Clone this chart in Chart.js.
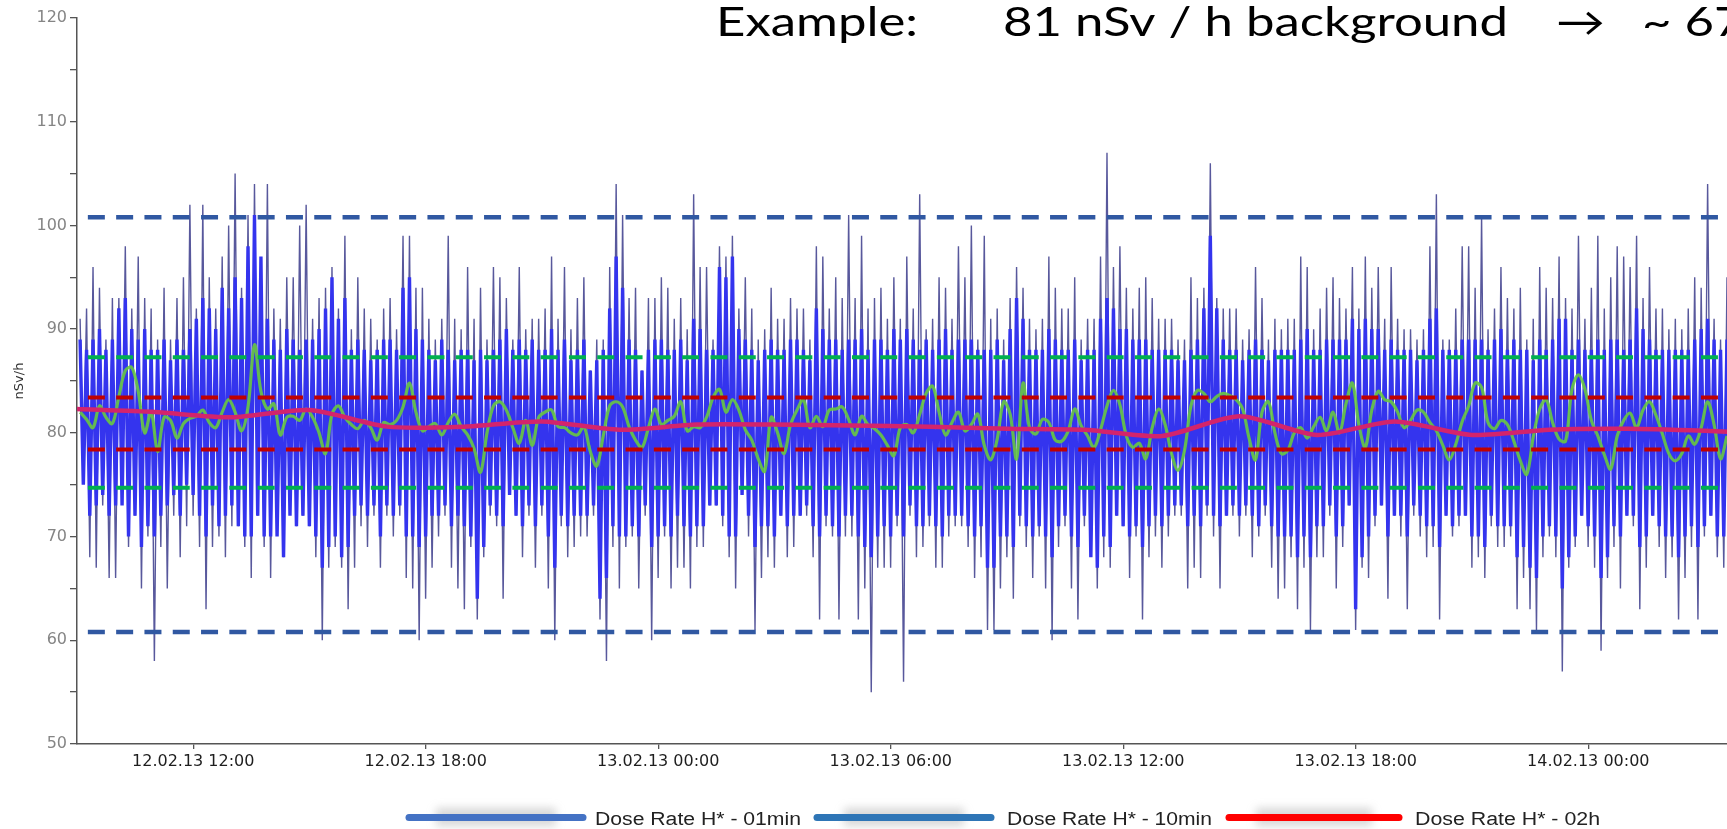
<!DOCTYPE html>
<html>
<head>
<meta charset="utf-8">
<title>Dose Rate H*</title>
<script src="https://cdn.jsdelivr.net/npm/chart.js@4.4.1/dist/chart.umd.min.js"></script>
<style>
  html, body { margin: 0; padding: 0; background: #fff; overflow: hidden; }
  #doseChart { display: block; }
</style>
</head>
<body>
<canvas id="doseChart" width="1727" height="829"></canvas>
<script>
// time axis: hours counted from 12.02.13 00:00
const axisStart = 9;
const axisEnd = 51.58;
const start01 = 9.08;          // first sample of the 1-min trace
const start10 = 9.08;          // first sample of the 10-min trace
const start02h = 9;            // first sample of the 2h trace

// 1-min dose rate, extremes per 5-min slot (peak, dip, peak, dip ...), one row per hour
const rate01minPeaks = [
  91,76, 92,68, 96,67, 94,73, 89,66, 93,66,
  93,74, 98,69, 92,72, 97,65, 93,70, 92,58,
  89,69, 94,65, 89,72, 93,68, 95,71, 102,72,
  92,69, 102,63, 95,69, 92,70, 97,68, 100,71,
  105,71, 94,69, 101,66, 104,72, 92,69, 104,66,
  92,72, 91,68, 95,73, 95,71, 100,72, 102,71,
  91,68, 93,60, 94,67, 96,69, 92,67, 99,63,
  90,67, 95,71, 92,69, 91,72, 89,67, 92,72,
  93,70, 90,72, 99,66, 99,65, 94,60, 94,64,
  91,67, 89,70, 91,72, 99,67, 91,65, 90,63,
  96,69, 91,62, 94,68, 89,72, 96,71, 95,64,
  93,74, 89,72, 96,68, 90,72, 91,67, 91,72,
  92,65, 97,60, 91,71, 96,68, 90,69, 93,70,
  95,70, 86,72, 89,62, 89,58, 96,69, 104,65,
  101,69, 93,70, 94,65, 86,72, 93,60, 93,66,
  95,70, 94,65, 91,67, 93,67, 90,65, 103,69,
  96,69, 96,73, 89,73, 98,71, 97,68, 99,65,
  92,74, 95,70, 92,61, 89,66, 90,68, 94,67,
  91,72, 91,68, 93,69, 92,72, 92,72, 89,68,
  98,62, 97,71, 92,70, 95,62, 93,70, 101,70,
  93,62, 99,65, 92,55, 93,67, 94,67, 91,67,
  95,71, 91,56, 97,72, 92,68, 103,69, 90,71,
  91,67, 95,67, 94,70, 91,71, 98,71, 95,69,
  100,66, 89,68, 99,61, 91,61, 92,65, 89,68,
  93,64, 96,71, 94,69, 91,66, 90,70, 91,65,
  97,60, 94,69, 92,71, 92,65, 95,62, 89,71,
  91,70, 91,65, 97,68, 107,67, 96,72, 98,71,
  94,66, 92,70, 94,62, 95,68, 93,70, 91,67,
  91,70, 91,72, 89,72, 89,65, 95,67, 93,66,
  94,72, 106,70, 93,65, 92,72, 92,72, 92,70,
  89,72, 90,68, 96,70, 93,72, 89,67, 91,64,
  90,65, 91,68, 91,63, 97,67, 96,61, 90,68,
  92,68, 94,72, 95,65, 93,69, 92,73, 96,61,
  92,67, 97,66, 94,71, 96,73, 91,64, 96,72,
  91,70, 90,63, 90,72, 89,70, 90,68, 98,69,
  103,62, 89,72, 89,70, 92,71, 98,72, 98,67,
  94,68, 101,66, 90,71, 92,69, 96,69, 93,70,
  92,63, 94,66, 89,63, 91,61, 96,68, 94,70,
  93,68, 97,57, 93,67, 92,69, 99,72, 91,69,
  94,67, 99,59, 92,66, 95,69, 98,65, 97,72,
  96,71, 99,63, 93,67, 96,72, 92,69, 92,66,
  90,68, 91,62, 90,66, 92,69, 95,62, 94,70,
  104,72, 91,68, 89,67, 95,67, 92,69, 93,70
];

// dense body of the 1-min trace on the same 5-min slots
const rate01minBody = [
  89,75, 88,72, 89,73, 90,74, 88,72, 89,73,
  92,73, 93,70, 90,72, 89,69, 90,71, 88,70,
  88,72, 89,73, 87,74, 89,72, 88,75, 90,74,
  91,72, 93,70, 92,73, 90,71, 94,72, 92,73,
  95,71, 93,70, 98,70, 101,72, 97,70, 91,70,
  89,70, 88,68, 90,72, 89,71, 88,72, 89,71,
  89,70, 90,67, 92,69, 95,70, 91,68, 93,69,
  88,72, 89,73, 88,72, 87,73, 88,70, 89,73,
  89,72, 88,73, 94,70, 95,70, 90,69, 89,70,
  88,72, 87,72, 89,73, 88,71, 87,72, 88,71,
  88,70, 87,64, 88,69, 87,73, 88,72, 89,71,
  90,74, 88,72, 89,71, 88,73, 89,71, 88,73,
  88,70, 90,67, 88,72, 89,71, 87,72, 88,72,
  89,72, 86,73, 87,64, 88,66, 92,71, 97,70,
  94,70, 89,71, 88,70, 86,73, 88,69, 89,70,
  89,71, 88,70, 88,72, 89,71, 87,70, 91,71,
  90,71, 88,73, 88,73, 96,72, 95,70, 97,70,
  90,74, 89,72, 88,69, 87,71, 88,71, 89,70,
  88,72, 88,71, 89,72, 89,72, 88,73, 87,71,
  92,70, 90,72, 89,71, 89,70, 88,72, 89,72,
  89,70, 90,69, 88,68, 89,70, 89,71, 88,70,
  90,72, 89,70, 90,73, 89,71, 88,71, 89,72,
  88,71, 89,70, 90,72, 88,72, 89,72, 89,71,
  89,70, 88,71, 88,67, 88,67, 89,70, 87,70,
  90,69, 93,72, 91,71, 88,70, 88,71, 88,70,
  90,68, 89,71, 88,72, 88,70, 89,69, 87,72,
  88,68, 88,67, 91,70, 93,69, 92,72, 90,71,
  90,70, 89,71, 89,69, 89,71, 88,72, 88,71,
  88,72, 88,73, 87,73, 87,71, 88,72, 89,71,
  92,73, 99,72, 92,71, 89,72, 88,73, 88,72,
  87,73, 88,72, 89,71, 88,73, 87,71, 88,70,
  88,70, 88,70, 88,68, 89,70, 90,68, 88,71,
  88,71, 89,73, 89,70, 89,71, 89,73, 91,63,
  90,68, 91,70, 90,72, 90,73, 88,70, 89,72,
  88,72, 88,70, 88,73, 87,72, 88,71, 91,71,
  92,69, 88,72, 88,71, 88,72, 89,72, 89,70,
  89,70, 89,69, 88,72, 89,71, 90,71, 88,71,
  89,68, 88,69, 88,67, 87,66, 89,70, 88,71,
  89,70, 91,65, 91,68, 88,70, 89,72, 88,71,
  88,70, 89,66, 88,68, 89,71, 89,70, 88,72,
  89,72, 92,69, 90,70, 89,72, 88,71, 88,70,
  88,70, 88,68, 88,70, 88,71, 89,69, 90,71,
  91,72, 89,70, 88,70, 89,71, 89,71, 89,72
];

// 10-min dose rate, one value per 10 min
const rate10min = [
  82.0, 81.3, 80.5, 82.6, 81.5, 80.9, 83.5, 86.0, 86.3, 84.0, 80.0, 82.0, 78.2, 81.5, 81.2, 79.5,
  80.9, 81.4, 81.6, 82.2, 81.0, 80.5, 82.0, 83.2, 82.0, 80.2, 82.5, 88.5, 84.0, 82.3, 82.8, 79.8,
  81.5, 81.6, 81.2, 82.3, 81.5, 80.0, 78.0, 81.8, 82.6, 81.5, 80.8, 80.4, 81.2, 80.5, 79.3, 81.0,
  80.8, 81.2, 82.5, 84.8, 82.0, 80.2, 80.6, 80.9, 79.8, 81.0, 81.8, 80.6, 79.8, 78.5, 76.2, 80.0,
  82.6,
  83.0, 82.2, 80.5, 79.0, 81.2, 78.8, 81.5, 82.0, 82.2, 80.6, 80.5, 80.0, 79.8, 80.6, 78.2, 76.8,
  79.7, 82.6, 83.0, 82.5, 80.6, 79.3, 78.6, 80.5, 82.3, 80.8, 81.2, 81.6, 83.0, 80.2, 80.6, 80.5,
  81.5, 83.4, 84.2, 82.0, 83.2, 82.2, 80.3, 79.3, 77.5, 76.3, 81.5, 80.0, 78.0, 80.8, 82.2, 83.2,
  80.5, 81.6, 80.6, 82.2, 82.3, 82.5, 81.3, 79.8, 81.6, 80.8, 80.4, 79.8, 78.8, 77.8, 80.5,
  80.8, 80.0, 81.8, 83.8, 84.5, 82.0, 79.8, 81.0, 82.0, 80.2, 80.8, 81.8, 78.8, 77.4, 79.4, 83.0,
  81.8, 77.5, 84.8, 80.5, 79.9, 81.3, 81.0, 79.3, 79.2, 80.2, 82.3, 80.7, 79.7, 78.6, 80.3, 82.6,
  84.1, 82.7, 79.7, 78.6, 79.0, 77.5, 80.5, 82.3, 80.8, 78.0, 76.4, 78.3, 82.6, 84.1, 83.8, 83.0,
  83.5, 83.8, 83.6, 83.2, 82.3, 79.5, 77.4, 82.0, 83.0, 80.0, 78.0, 78.3, 80.0, 80.5, 79.5, 80.6,
  81.5, 80.2, 82.0, 80.0, 82.8, 84.8, 80.8, 78.6, 82.2, 84.0, 83.2, 83.0, 82.0, 80.5, 81.2, 82.2,
  82.0, 81.0, 80.2, 78.8, 77.4, 78.9, 81.1, 82.6, 84.8, 84.4, 81.0, 80.4, 81.2, 80.8, 79.2, 77.3,
  76.0, 79.6, 82.3, 83.2, 81.0, 79.4, 79.2, 84.2, 85.6, 84.2, 81.2, 79.7, 77.9, 76.5, 79.7, 81.2,
  81.9, 80.5, 82.2, 83.0, 81.7, 79.9, 78.0, 77.3, 78.0, 79.7, 78.9, 80.5, 83.0, 80.8, 77.5, 79.7
];

// 2h dose rate, one value every 2 hours
const rate02h = [
  82.3, 82.0, 81.5, 82.2, 80.6, 80.6, 81.1, 80.3, 80.8, 80.8, 80.7, 80.6,
  80.4, 80.3, 79.7, 81.6, 79.8, 81.1, 79.8, 80.3, 80.4, 80.2, 79.9
];

// reference levels (lower, upper)
const limitsOuter = [60.8, 100.8];
const limitsMid = [74.7, 87.3];
const limitsInner = [78.4, 83.4];

const legendLabels = ['Dose Rate H* - 01min', 'Dose Rate H* - 10min', 'Dose Rate H* - 02h'];
const titleParts = ['Example:', '81 nSv / h background', '\u2192', '~ 67'];

// ---- build datasets ----
const toSeries = (values, start, step) => values.map((v, i) => ({ x: start + i * step, y: v }));
const levelLine = (y) => [{ x: 9.28, y: y }, { x: 54, y: y }];

const dashed = (y, color, width) => ({
    data: levelLine(y),
    borderColor: color,
    borderWidth: width,
    borderDash: [17, 11.3],
    borderCapStyle: 'butt',
    pointRadius: 0,
    order: 0
});

const datasets = [
    dashed(limitsOuter[1], '#3058a2', 4.5),
    dashed(limitsOuter[0], '#3058a2', 4.5),
    dashed(limitsMid[1], '#00b050', 4),
    dashed(limitsMid[0], '#00b050', 4),
    dashed(limitsInner[1], '#c00000', 4),
    dashed(limitsInner[0], '#c00000', 4),
    {
        data: toSeries(rate02h, start02h, 2),
        borderColor: '#d3246c',
        borderWidth: 4.5,
        tension: 0.25,
        pointRadius: 0,
        order: 1
    },
    {
        data: toSeries(rate10min, start10, 1 / 6),
        borderColor: 'rgba(104, 200, 64, 0.9)',
        borderWidth: 3.2,
        tension: 0.35,
        pointRadius: 0,
        order: 2
    },
    {
        data: toSeries(rate01minBody, start01, 1 / 12),
        borderColor: '#3434ee',
        borderWidth: 3.4,
        borderJoinStyle: 'bevel',
        tension: 0,
        pointRadius: 0,
        order: 3
    },
    {
        data: toSeries(rate01minPeaks, start01, 1 / 12),
        borderColor: '#58589c',
        borderWidth: 1.4,
        borderJoinStyle: 'bevel',
        tension: 0,
        pointRadius: 0,
        order: 4
    }
];

function pad2(n) { return (n < 10 ? '0' : '') + n; }
function hourLabel(h) {
    const day = 12 + Math.floor(h / 24);
    const hh = Math.round(h % 24);
    return pad2(day) + '.02.13 ' + pad2(hh) + ':00';
}

// title and legend drawn on the canvas
const overlayPlugin = {
    id: 'overlay',
    afterDraw(chart) {
        const ctx = chart.ctx;
        ctx.save();

        // title line, stretched to the width it has in the picture
        const titleSlots = [[716, 202], [1003, 505], [1556, 49], [1642, 0]];
        ctx.fillStyle = '#000';
        ctx.textBaseline = 'alphabetic';
        let lastScale = 1;
        titleParts.forEach((txt, i) => {
            ctx.font = '40px Lato, "Open Sans", sans-serif';
            const w = ctx.measureText(txt).width;
            const sx = titleSlots[i][1] ? titleSlots[i][1] / w : lastScale;
            if (i === 1) lastScale = sx;
            ctx.save();
            ctx.translate(titleSlots[i][0], 36);
            ctx.scale(sx, 1);
            ctx.fillText(txt, 0, 0);
            ctx.restore();
        });

        // legend
        const swatches = [[406, 586, '#4472c4'], [814, 994, '#2e75b6'], [1226, 1402, '#ff0000']];
        const textSlots = [[595, 206], [1007, 205], [1415, 185]];
        swatches.forEach((s, i) => {
            ctx.save();
            ctx.filter = 'blur(4px)';
            ctx.fillStyle = 'rgba(140,140,140,0.35)';
            ctx.fillRect(s[0] + 30, 808, s[1] - s[0] - 60, 18);
            ctx.restore();

            ctx.beginPath();
            ctx.strokeStyle = s[2];
            ctx.lineWidth = 7;
            ctx.lineCap = 'round';
            ctx.moveTo(s[0] + 3, 817.5);
            ctx.lineTo(s[1] - 3, 817.5);
            ctx.stroke();

            ctx.font = '18px "Liberation Sans", Arial, sans-serif';
            ctx.fillStyle = '#222';
            const w = ctx.measureText(legendLabels[i]).width;
            ctx.save();
            ctx.translate(textSlots[i][0], 825);
            ctx.scale(textSlots[i][1] / w, 1);
            ctx.fillText(legendLabels[i], 0, 0);
            ctx.restore();
        });

        ctx.restore();
    }
};

const ctx = document.getElementById('doseChart').getContext('2d');
const doseChart = new Chart(ctx, {
    type: 'line',
    data: { datasets: datasets },
    plugins: [overlayPlugin],
    options: {
        responsive: false,
        animation: false,
        events: [],
        layout: { padding: { top: 18, right: 0, bottom: 0, left: 0 } },
        plugins: {
            legend: { display: false },
            tooltip: { enabled: false }
        },
        scales: {
            x: {
                type: 'linear',
                min: axisStart,
                max: axisEnd,
                afterFit: (scale) => { scale.height = 85; },
                afterBuildTicks: (scale) => {
                    scale.ticks = scale.ticks.filter(t =>
                        Math.abs(t.value / 6 - Math.round(t.value / 6)) < 1e-6 && t.value <= axisEnd);
                },
                ticks: {
                    stepSize: 6,
                    autoSkip: false,
                    maxRotation: 0,
                    padding: 3,
                    color: '#1e1e1e',
                    font: { family: 'DejaVu Sans', size: 16 },
                    callback: (v) => hourLabel(v)
                },
                grid: { drawOnChartArea: false, tickLength: 5, color: '#555', lineWidth: 1.3 },
                border: { color: '#555', width: 1.5 }
            },
            y: {
                min: 50,
                max: 120,
                afterFit: (scale) => { scale.width = 77; },
                ticks: {
                    stepSize: 5,
                    padding: 3,
                    color: '#858585',
                    font: { family: 'DejaVu Sans', size: 16 },
                    callback: (v) => (v % 10 === 0 ? v : '')
                },
                grid: { drawOnChartArea: false, tickLength: 7, color: '#555', lineWidth: 1.3 },
                border: { color: '#555', width: 1.5 },
                title: {
                    display: true,
                    text: 'nSv/h',
                    color: '#333',
                    font: { family: 'DejaVu Sans', size: 13 },
                    padding: { top: 12, bottom: 0 }
                }
            }
        }
    }
});
</script>
</body>
</html>
